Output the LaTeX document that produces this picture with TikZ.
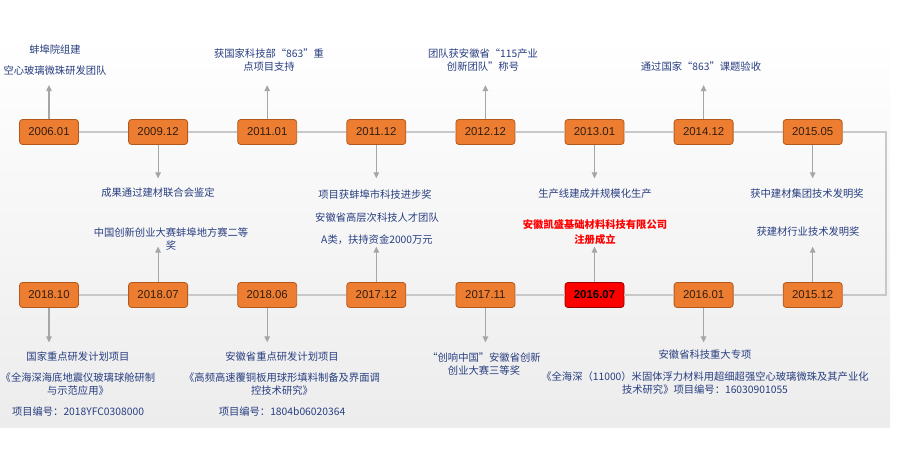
\documentclass[tikz,border=0pt]{standalone}
\usepackage{fontspec}
\setmainfont{Liberation Sans}
\newfontfamily\cjk{Noto Sans CJK SC}
\usetikzlibrary{positioning,arrows.meta}
\definecolor{boxorange}{RGB}{237,125,49}
\definecolor{boxedge}{RGB}{178,90,30}
\definecolor{datetext}{RGB}{50,30,15}
\definecolor{noteblue}{RGB}{40,62,128}
\definecolor{trackgray}{RGB}{200,200,200}
\definecolor{arrowgray}{RGB}{166,166,166}
\definecolor{panelgray}{RGB}{236,236,236}

\begin{document}
\begin{tikzpicture}[x=1pt,y=1pt,
  datebox/.style={draw=boxedge,fill=boxorange,rounded corners=3pt,line width=0.8pt,
    minimum width=59pt,minimum height=25pt,inner sep=1pt,text=datetext,
    font=\fontsize{11.4}{13}\selectfont},
  redbox/.style={datebox,fill=red,draw=red!60!black,font=\fontsize{11.4}{13}\selectfont\bfseries,text=black},
  note/.style={align=center,inner sep=1pt,text=noteblue,font=\cjk\fontsize{10.3}{13}\selectfont},
  rednote/.style={note,text=red,font=\cjk\bfseries\fontsize{10.3}{15}\selectfont},
  track/.style={draw=trackgray,line width=1.3pt},
  link/.style={draw=arrowgray,line width=1.1pt,-{Triangle[width=5.5pt,length=6pt]}}]
\useasboundingbox (0,0) rectangle (900,468);
\shade[top color=white,bottom color=panelgray] (0,40) rectangle (890,431);

% top row
\node[datebox] (t1) at (49,336) {2006.01};
\node[datebox,right=49.3pt of t1] (t2) {2009.12};
\node[datebox,right=49.3pt of t2] (t3) {2011.01};
\node[datebox,right=49.3pt of t3] (t4) {2011.12};
\node[datebox,right=49.3pt of t4] (t5) {2012.12};
\node[datebox,right=49.3pt of t5] (t6) {2013.01};
\node[datebox,right=49.3pt of t6] (t7) {2014.12};
\node[datebox,right=49.3pt of t7] (t8) {2015.05};

% bottom row
\node[datebox] (b1) at (49,173) {2018.10};
\node[datebox,right=49.3pt of b1] (b2) {2018.07};
\node[datebox,right=49.3pt of b2] (b3) {2018.06};
\node[datebox,right=49.3pt of b3] (b4) {2017.12};
\node[datebox,right=49.3pt of b4] (b5) {2017.11};
\node[redbox,right=49.3pt of b5] (b6) {2016.07};
\node[datebox,right=49.3pt of b6] (b7) {2016.01};
\node[datebox,right=49.3pt of b7] (b8) {2015.12};

\coordinate (c1) at (886,336);
\coordinate (c2) at (886,173);
\draw[track] (t1) -- (t2) -- (t3) -- (t4) -- (t5) -- (t6) -- (t7) -- (t8) -- (c1)
  -- (c2) -- (b8) -- (b7) -- (b6) -- (b5) -- (b4) -- (b3) -- (b2) -- (b1);

% notes above and below the top row
\node[note] (n1) at (55,407.5) {蚌埠院组建\\[8pt]空心玻璃微珠研发团队};
\node[note] (n2) at (158,275) {成果通过建材联合会鉴定};
\node[note] (n3) at (269,407.5) {获国家科技部“863”重\\点项目支持};
\node[note] (n4) at (375,273) {项目获蚌埠市科技进步奖};
\node[note] (n5) at (483,407.5) {团队获安徽省“115产业\\创新团队”称号};
\node[note] (n6) at (595,274) {生产线建成并规模化生产};
\node[note] (n7) at (701,401) {通过国家“863”课题验收};
\node[note] (n8) at (807,274) {获中建材集团技术发明奖};

% notes above and below the bottom row
\node[note] (m1) at (78,83.5) {国家重点研发计划项目\\[8pt]《全海深海底地震仪玻璃球舱研制\\与示范应用》\\[8pt]项目编号：2018YFC0308000};
\node[note] (m2) at (171,229) {中国创新创业大赛蚌埠地方赛二等\\奖};
\node[note] (m3) at (282,83.5) {安徽省重点研发计划项目\\[8pt]《高频高速覆铜板用球形填料制备及界面调\\控技术研究》\\[8pt]项目编号：1804b06020364};
\node[note] (m4) at (377,239) {安徽省高层次科技人才团队\\[9pt]A类，扶持资金2000万元};
\node[note] (m5) at (484,104) {“创响中国”安徽省创新\\创业大赛三等奖};
\node[rednote] (m6) at (595,235.5) {安徽凯盛基础材料科技有限公司\\注册成立};
\node[note] (m7) at (705,95.5) {安徽省科技重大专项\\[9pt]《全海深（11000）米固体浮力材料用超细超强空心玻璃微珠及其产业化\\技术研究》项目编号：16030901055};
\node[note] (m8) at (808,236) {获建材行业技术发明奖};

% arrow ends
\coordinate[above=34pt of t1] (a1);
\coordinate[below=33.5pt of t2] (a2);
\coordinate[above=34pt of t3] (a3);
\coordinate[below=33.5pt of t4] (a4);
\coordinate[above=34pt of t5] (a5);
\coordinate[below=33.5pt of t6] (a6);
\coordinate[above=34pt of t7] (a7);
\coordinate[below=33.5pt of t8] (a8);
\coordinate[below=34.5pt of b1] (e1);
\coordinate[above=35.5pt of b2] (e2);
\coordinate[below=34.5pt of b3] (e3);
\coordinate[above=35.5pt of b4] (e4);
\coordinate[below=34.5pt of b5] (e5);
\coordinate[above=35.5pt of b6] (e6);
\coordinate[below=34.5pt of b7] (e7);
\coordinate[above=35.5pt of b8] (e8);

\draw[link] (t1) -- (a1);
\draw[link] (t2) -- (a2);
\draw[link] (t3) -- (a3);
\draw[link] (t4) -- (a4);
\draw[link] (t5) -- (a5);
\draw[link] (t6) -- (a6);
\draw[link] (t7) -- (a7);
\draw[link] (t8) -- (a8);
\draw[link] (b1) -- (e1);
\draw[link] (b2) -- (e2);
\draw[link] (b3) -- (e3);
\draw[link] (b4) -- (e4);
\draw[link] (b5) -- (e5);
\draw[link] (b6) -- (e6);
\draw[link] (b7) -- (e7);
\draw[link] (b8) -- (e8);
\end{tikzpicture}
\end{document}
